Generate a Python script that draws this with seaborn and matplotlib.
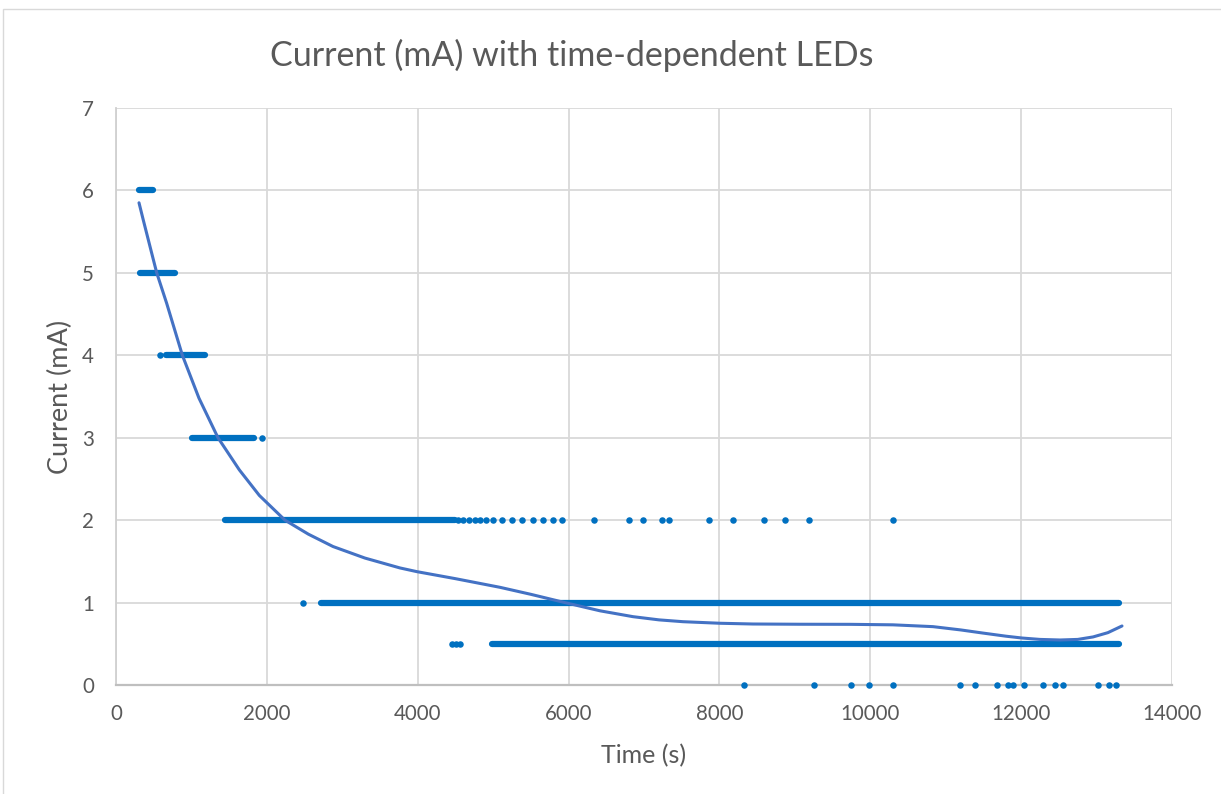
import numpy as np
import pandas as pd
import seaborn as sns
import matplotlib.pyplot as plt
from matplotlib.patches import Rectangle

# dense runs of measurements (current level, first and last time)
run_y = [6, 5, 4, 3, 2, 1, 0.5]
run_start = [305, 318, 663, 1008, 1445, 2718, 4985]
run_end = [490, 782, 1180, 1830, 4494, 13297, 13297]

# isolated measurements
dots_4 = [583]
dots_3 = [1935]
dots_2 = [4534, 4600, 4680, 4760, 4830, 4900, 4998, 5117, 5250, 5383, 5528,
          5661, 5793, 5913, 6337, 6801, 6987, 7239, 7331, 7862, 8180, 8591,
          8869, 9187, 10301]
dots_1 = [2479]
dots_05 = [4455, 4508, 4560]
dots_0 = [8326, 9254, 9744, 9983, 10301, 11189, 11388, 11680, 11826, 11892,
          12038, 12290, 12449, 12555, 13019, 13165, 13257]

# polynomial trendline
trend_x = [305, 362, 473, 540, 672, 880, 1100, 1352, 1635, 1900, 2240, 2550,
           2877, 3300, 3765, 3990, 4500, 5091, 5500, 5950, 6417, 6854, 7200,
           7517, 8007, 8445, 9068, 9731, 10300, 10831, 11200, 11494, 11800,
           12011, 12250, 12515, 12750, 12953, 13150, 13337]
trend_y = [5.85, 5.64, 5.24, 5.0, 4.63, 4.0, 3.48, 3.0, 2.61, 2.3, 2.0, 1.83,
           1.68, 1.54, 1.42, 1.375, 1.29, 1.185, 1.1, 1.0, 0.90, 0.829, 0.79,
           0.768, 0.749, 0.740, 0.737, 0.736, 0.730, 0.708, 0.668, 0.630,
           0.592, 0.570, 0.553, 0.546, 0.553, 0.583, 0.635, 0.716]

BLUE = "#0070C0"
TREND = "#4472C4"
GREY = "#595959"

dots = pd.DataFrame({
    "t": dots_4 + dots_3 + dots_2 + dots_1 + dots_05 + dots_0,
    "mA": [4] * len(dots_4) + [3] * len(dots_3) + [2] * len(dots_2)
          + [1] * len(dots_1) + [0.5] * len(dots_05) + [0] * len(dots_0),
})

sns.set_style("white")
plt.rcParams['font.family'] = ['Lato', 'DejaVu Sans']

fig = plt.figure(figsize=(12.21, 7.94), dpi=100)
ax = fig.add_axes([116 / 1221, 1 - 685 / 794, 1056 / 1221, 577 / 794])

runs = ax.hlines(run_y, run_start, run_end, colors=BLUE, linewidth=4.5,
                 zorder=3, clip_on=False)
runs.set_capstyle("round")
sns.scatterplot(data=dots, x="t", y="mA", ax=ax, color=BLUE, s=22,
                linewidth=0, zorder=3, clip_on=False)
sns.lineplot(x=trend_x, y=trend_y, ax=ax, color=TREND, linewidth=2.2,
             sort=False, estimator=None, zorder=4)

ax.set_xlim(0, 14000)
ax.set_ylim(0, 7)
ax.set_xticks(range(0, 14001, 2000))
ax.set_yticks(range(0, 8))
ax.grid(True, color="#D9D9D9", linewidth=1.3)
ax.set_axisbelow(True)
for s in ["top", "right"]:
    ax.spines[s].set_visible(False)
ax.spines["left"].set_color("#D0D0D0")
ax.spines["left"].set_linewidth(1.3)
ax.spines["bottom"].set_color("#BFBFBF")
ax.spines["bottom"].set_linewidth(1.6)
ax.tick_params(length=0, labelsize=14.8, labelcolor=GREY)
ax.tick_params(axis="y", pad=16)
ax.tick_params(axis="x", pad=14)
ax.set_xlabel("")
ax.set_ylabel("")

fig.text(644 / 1221, 1 - 756 / 794, "Time (s)", ha="center", va="center",
         fontsize=18, color=GREY)
fig.text(60 / 1221, 1 - 397 / 794, "Current (mA)", ha="center", va="center",
         rotation=90, fontsize=19.5, color=GREY)
fig.text(572 / 1221, 1 - 66 / 794, "Current (mA) with time-dependent LEDs",
         ha="center", va="baseline", fontsize=24.5, color=GREY)

fig.patches.append(Rectangle((3 / 1221, -0.05), 1.1, 1 - 9 / 794 + 0.05,
                             transform=fig.transFigure, fill=False,
                             edgecolor="#D9D9D9", linewidth=1))

fig.savefig("out.png", dpi=100)
